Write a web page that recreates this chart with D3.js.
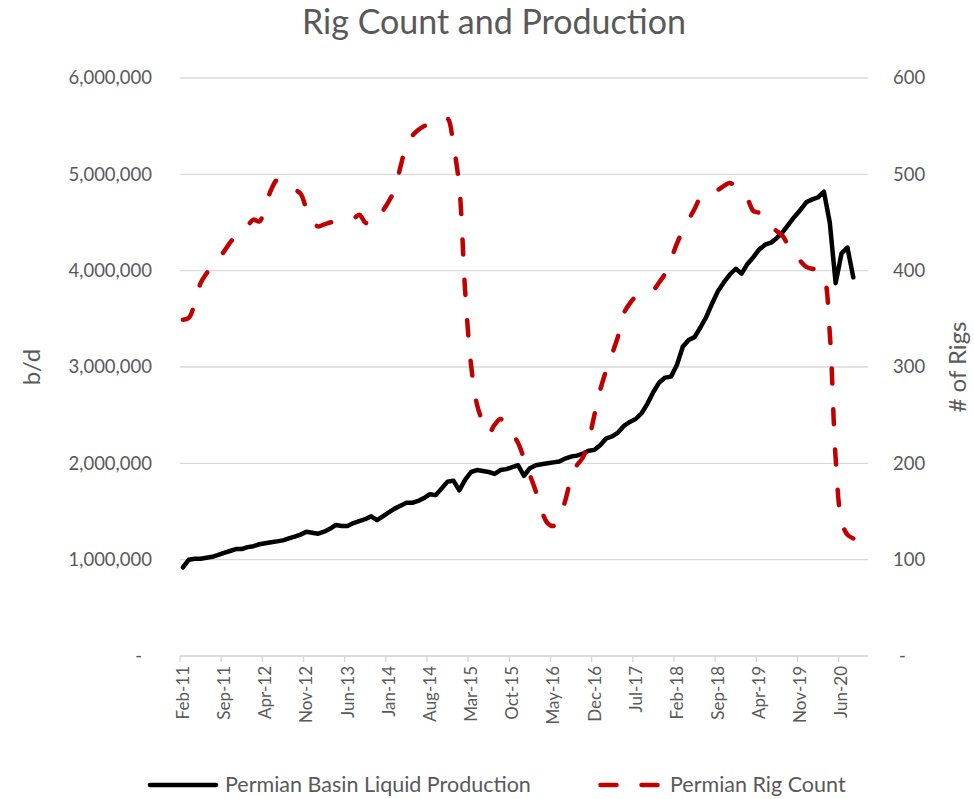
<!DOCTYPE html>
<html>
<head>
<meta charset="utf-8">
<script src="https://cdn.jsdelivr.net/npm/d3@7"></script>
<style>
  body { margin: 0; background: #fff; }
  text { font-family: Lato, "Open Sans", sans-serif; fill: #595959; }
</style>
</head>
<body>
<svg id="chart" width="974" height="799"></svg>
<script>
// months shown on the category axis: Feb-11 .. Oct-20
var firstMonth = new Date(2011, 1, 1), endMonth = new Date(2020, 10, 1);
var tickLabels = ["Feb-11", "Sep-11", "Apr-12", "Nov-12", "Jun-13", "Jan-14", "Aug-14", "Mar-15", "Oct-15",
    "May-16", "Dec-16", "Jul-17", "Feb-18", "Sep-18", "Apr-19", "Nov-19", "Jun-20"];

// Permian Basin liquid production, million b/d, Feb-11 .. Aug-20
var productionMbd = [
    0.92, 1.00, 1.01, 1.01, 1.02, 1.03, 1.05, 1.07, 1.09, 1.11,
    1.11, 1.13, 1.14, 1.16, 1.17, 1.18, 1.19, 1.20, 1.22, 1.24,
    1.26, 1.29, 1.28, 1.27, 1.29, 1.32, 1.36, 1.35, 1.35, 1.38,
    1.40, 1.42, 1.45, 1.41, 1.45, 1.49, 1.53, 1.56, 1.59, 1.59,
    1.61, 1.64, 1.68, 1.67, 1.74, 1.81, 1.82, 1.72, 1.83, 1.91,
    1.93, 1.92, 1.91, 1.89, 1.93, 1.94, 1.96, 1.98, 1.87, 1.95,
    1.98, 1.99, 2.00, 2.01, 2.02, 2.05, 2.07, 2.08, 2.10, 2.13,
    2.14, 2.19, 2.26, 2.28, 2.32, 2.39, 2.43, 2.46, 2.52, 2.62,
    2.74, 2.84, 2.89, 2.90, 3.02, 3.21, 3.28, 3.31, 3.41, 3.52,
    3.66, 3.79, 3.88, 3.96, 4.02, 3.97, 4.07, 4.14, 4.22, 4.27,
    4.29, 4.34, 4.40, 4.48, 4.56, 4.63, 4.71, 4.74, 4.76, 4.82,
    4.50, 3.87, 4.18, 4.24, 3.93
];

// Permian rig count, Feb-11 .. Aug-20
var rigCount = [
    349, 351, 366, 387, 397, 406, 412, 420, 429, 436,
    443, 447, 453, 451, 467, 484, 494, 492, 486, 484,
    480, 464, 451, 446, 448, 450, 451, 452, 453, 454,
    458, 450, 448, 452, 462, 472, 484, 508, 530, 540,
    546, 550, 553, 556, 557, 558, 530, 487, 378, 302,
    261, 243, 231, 240, 246, 239, 231, 221, 205, 188,
    171, 151, 138, 135, 143, 161, 184, 198, 206, 224,
    251, 277, 297, 314, 332, 356, 366, 373, 376, 378,
    380, 388, 397, 412, 428, 442, 453, 464, 476, 480,
    482, 484, 488, 491, 487, 479, 474, 462, 460, 455,
    446, 441, 436, 425, 417, 410, 404, 402, 401, 394,
    335, 205, 140, 126, 122
];

var leftTicks = [0, 1000000, 2000000, 3000000, 4000000, 5000000, 6000000];
var rightTicks = [0, 100, 200, 300, 400, 500, 600];

var fmtMonth = d3.timeFormat("%b-%y");
var months = d3.timeMonth.range(firstMonth, endMonth).map(fmtMonth);

var svg = d3.select("#chart");
var plotLeft = 180, plotRight = 868, plotTop = 78, plotBottom = 656;
var grey = "#d9d9d9";

var x = d3.scaleBand().domain(months).range([plotLeft, plotRight]);
var bw = x.bandwidth();
var yL = d3.scaleLinear().domain([0, 6000000]).range([plotBottom, plotTop]);
var yR = d3.scaleLinear().domain([0, 600]).range([plotBottom, plotTop]);

// gridlines
svg.append("g").selectAll("line")
    .data(leftTicks)
    .enter()
    .append("line")
    .attr("x1", plotLeft).attr("x2", plotRight)
    .attr("y1", function (d) { return yL(d); })
    .attr("y2", function (d) { return yL(d); })
    .attr("stroke", grey)
    .attr("stroke-width", 1.4);

// left axis
var gLeft = svg.append("g")
    .attr("transform", "translate(" + plotLeft + ",0)")
    .call(d3.axisLeft(yL).tickValues(leftTicks).tickSize(0).tickPadding(28)
        .tickFormat(function (d) { return d === 0 ? "-" : d3.format(",")(d); }));
gLeft.select(".domain").remove();
gLeft.selectAll("text").style("font-size", "18.5px")
    .attr("dx", function (d) { return d === 0 ? -10 : 0; });

// right axis
var gRight = svg.append("g")
    .attr("transform", "translate(" + plotRight + ",0)")
    .call(d3.axisRight(yR).tickValues(rightTicks).tickSize(0).tickPadding(25)
        .tickFormat(function (d) { return d === 0 ? "-" : d; }));
gRight.select(".domain").remove();
gRight.selectAll("text").style("font-size", "18.5px")
    .attr("dx", function (d) { return d === 0 ? 6 : 0; });

// bottom axis
var gBottom = svg.append("g")
    .attr("transform", "translate(0," + plotBottom + ")")
    .call(d3.axisBottom(x).tickValues(tickLabels).tickSize(6).tickSizeOuter(0));
gBottom.select(".domain").attr("stroke", grey).attr("stroke-width", 1.4)
    .attr("d", "M" + plotLeft + ",0H" + plotRight);
gBottom.selectAll(".tick line").attr("stroke", grey).attr("stroke-width", 1.4)
    .attr("x1", -bw / 2).attr("x2", -bw / 2);
gBottom.selectAll(".tick text")
    .style("font-size", "17px")
    .attr("transform", "rotate(-90)")
    .attr("x", -10).attr("y", 0).attr("dy", "0.35em")
    .attr("text-anchor", "end");

function cx(i) { return x(months[i]) + bw / 2; }

// production line
svg.append("path")
    .datum(productionMbd)
    .attr("fill", "none")
    .attr("stroke", "#000")
    .attr("stroke-width", 4.5)
    .attr("stroke-linejoin", "round")
    .attr("stroke-linecap", "round")
    .attr("d", d3.line()
        .x(function (d, i) { return cx(i); })
        .y(function (d) { return yL(d * 1000000); }));

// rig count line (smoothed, dashed)
var rigPath = svg.append("path")
    .datum(rigCount)
    .attr("fill", "none")
    .attr("stroke", "#c00000")
    .attr("stroke-width", 4.5)
    .attr("stroke-linecap", "round")
    .attr("d", d3.line()
        .curve(d3.curveCatmullRom.alpha(0.5))
        .x(function (d, i) { return cx(i); })
        .y(function (d) { return yR(d); }));

// stretch the dash pattern a little so the line starts and ends on a dash
var len = rigPath.node().getTotalLength();
var k = Math.round(len / 40 - 0.375);
var period = len / (k + 0.375);
rigPath.attr("stroke-dasharray", (period * 0.375) + "," + (period * 0.625));

// titles
svg.append("text")
    .attr("x", 494).attr("y", 34)
    .attr("text-anchor", "middle")
    .style("font-size", "34px")
    .text("Rig Count and Production");

svg.append("text")
    .attr("transform", "translate(40," + (plotTop + plotBottom) / 2 + ") rotate(-90)")
    .attr("text-anchor", "middle")
    .style("font-size", "24px")
    .text("b/d");

svg.append("text")
    .attr("transform", "translate(966," + (plotTop + plotBottom) / 2 + ") rotate(-90)")
    .attr("text-anchor", "middle")
    .style("font-size", "24px")
    .text("# of Rigs");

// legend
var legend = svg.append("g");
legend.append("line")
    .attr("x1", 150).attr("x2", 216).attr("y1", 785).attr("y2", 785)
    .attr("stroke", "#000").attr("stroke-width", 4.5).attr("stroke-linecap", "round");
legend.append("text")
    .attr("x", 225).attr("y", 792)
    .style("font-size", "21.5px")
    .text("Permian Basin Liquid Production");
legend.append("line")
    .attr("x1", 600.5).attr("x2", 661).attr("y1", 785).attr("y2", 785)
    .attr("stroke", "#c00000").attr("stroke-width", 4.5).attr("stroke-linecap", "round")
    .attr("stroke-dasharray", "16,25");
legend.append("text")
    .attr("x", 670).attr("y", 792)
    .style("font-size", "21.5px")
    .text("Permian Rig Count");
</script>
</body>
</html>
